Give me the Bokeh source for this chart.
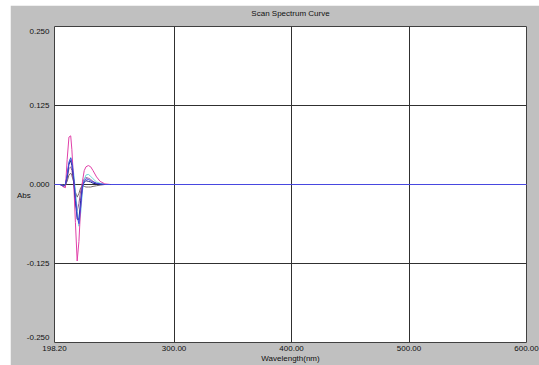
from bokeh.plotting import figure
from bokeh.models import FixedTicker, PrintfTickFormatter, Range1d, Spacer
from bokeh.layouts import column, row
from bokeh.embed import file_html
from bokeh.resources import INLINE

# ---- data ----
wavelength = [198.2, 203.0, 206.0, 207.5, 209.0, 210.5, 212.0, 213.0, 214.5, 216.0,
              217.5, 219.0, 220.5, 222.0, 223.5, 225.0, 227.0, 229.0, 231.0, 234.0,
              237.0, 241.0, 246.0, 260.0, 300.0, 400.0, 500.0, 600.0]

abs_gray = [0.0, 0.0, -0.001, 0.0, 0.005, 0.015, 0.018, 0.014, 0.004, -0.012,
            -0.020, -0.014, -0.005, -0.003, -0.003, -0.004, -0.004, -0.004, -0.003, -0.002,
            -0.001, 0.0, 0.0, 0.0, 0.0, 0.0, 0.0, 0.0]
abs_purple = [0.0, 0.0, -0.003, -0.002, 0.010, 0.025, 0.028, 0.022, 0.005, -0.030,
              -0.042, -0.030, -0.010, 0.003, 0.009, 0.011, 0.010, 0.008, 0.005, 0.002,
              0.001, 0.0, 0.0, 0.0, 0.0, 0.0, 0.0, 0.0]
abs_cyan = [0.0, 0.0, -0.002, 0.0, 0.015, 0.035, 0.043, 0.038, 0.018, -0.010,
            -0.040, -0.066, -0.045, -0.010, 0.008, 0.015, 0.016, 0.013, 0.009, 0.004,
            0.002, 0.0, 0.0, 0.0, 0.0, 0.0, 0.0, 0.0]
abs_magenta = [0.0, 0.0, -0.004, -0.005, 0.040, 0.075, 0.077, 0.055, 0.005, -0.060,
               -0.121, -0.090, -0.035, 0.005, 0.022, 0.028, 0.030, 0.028, 0.022, 0.012,
               0.005, 0.001, 0.0, 0.0, 0.0, 0.0, 0.0, 0.0]
abs_navy = [0.0, 0.0, -0.002, 0.0, 0.012, 0.032, 0.038, 0.030, 0.008, -0.025,
            -0.055, -0.055, -0.025, -0.003, 0.004, 0.006, 0.005, 0.004, 0.002, 0.001,
            0.0, 0.0, 0.0, 0.0, 0.0, 0.0, 0.0, 0.0]
abs_blue = [0.0, 0.0, -0.002, 0.0, 0.015, 0.035, 0.042, 0.035, 0.012, -0.020,
            -0.050, -0.062, -0.035, -0.005, 0.006, 0.009, 0.008, 0.006, 0.004, 0.002,
            0.001, 0.0, 0.0, 0.0, 0.0, 0.0, 0.0, 0.0]

x_ticks = [198.2, 300.0, 400.0, 500.0, 600.0]
y_ticks = [-0.25, -0.125, 0.0, 0.125, 0.25]
x_grid = [300.0, 400.0, 500.0]
y_grid = [-0.125, 0.0, 0.125]

title_text = "Scan Spectrum Curve"
x_label = "Wavelength(nm)"
y_label = "Abs"

FONT = "Liberation Sans"
GRAY = "#C0C0C0"
TXT = "#101010"

p = figure(width=529, height=360, output_backend="svg", toolbar_location=None,
           x_range=Range1d(198.2, 600.0), y_range=Range1d(-0.25, 0.25),
           min_border_left=44, min_border_right=13, min_border_top=21, min_border_bottom=20)

p.background_fill_color = "white"
p.border_fill_color = GRAY
p.outline_line_color = "#404040"
p.outline_line_width = 1

# trailing empty line lifts the title away from the frame, as in the reference
p.title.text = title_text + "\n"
p.title.align = "center"
p.title.standoff = 0
p.title.text_font = FONT
p.title.text_font_size = "8px"
p.title.text_font_style = "normal"
p.title.text_color = TXT

for ax, ticks, fmt, standoff in ((p.xaxis[0], x_ticks, "%.2f", 3), (p.yaxis[0], y_ticks, "%.3f", 5)):
    ax.ticker = FixedTicker(ticks=ticks)
    ax.formatter = PrintfTickFormatter(format=fmt)
    ax.major_tick_in = 0
    ax.major_tick_out = 0
    ax.minor_tick_line_color = None
    ax.axis_line_color = None
    ax.major_label_standoff = standoff
    ax.major_label_text_font = FONT
    ax.major_label_text_font_size = "8px"
    ax.major_label_text_color = TXT
    ax.axis_label_text_font = FONT
    ax.axis_label_text_font_size = "8px"
    ax.axis_label_text_font_style = "normal"
    ax.axis_label_text_color = TXT

# nudge the end labels inward, as in the reference
p.yaxis.major_label_overrides = {0.25: "\n0.250", -0.25: "-0.250\n"}

p.xaxis.axis_label = x_label
p.xaxis.axis_label_standoff = 0
p.yaxis.axis_label = "\n\n" + y_label
p.yaxis.axis_label_orientation = "horizontal"
p.yaxis.axis_label_standoff = -7

p.xgrid.ticker = FixedTicker(ticks=x_grid)
p.ygrid.ticker = FixedTicker(ticks=y_grid)
for g in (p.xgrid[0], p.ygrid[0]):
    g.grid_line_color = "#303030"
    g.grid_line_alpha = 1.0
    g.grid_line_width = 1

series = [
    (abs_gray, "#7A6A6A"),
    (abs_purple, "#9A5A9A"),
    (abs_cyan, "#70D8D8"),
    (abs_magenta, "#E040A8"),
    (abs_navy, "#1A1A80"),
    (abs_blue, "#4848E0"),
]
for vals, col in series:
    p.line(wavelength, vals, line_color=col, line_width=1)

layout = column(Spacer(width=539, height=5), row(Spacer(width=10, height=360), p))

open("out.html", "w").write(file_html(layout, INLINE))
